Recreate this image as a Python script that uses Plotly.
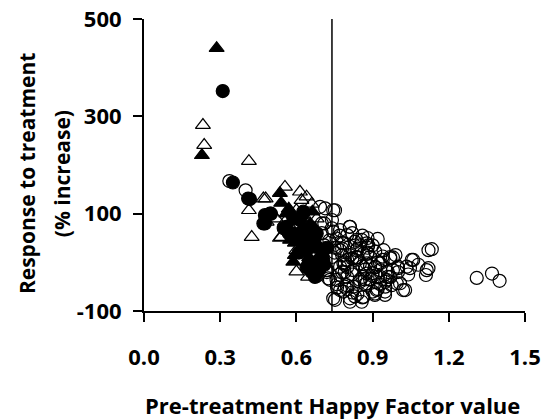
import plotly.graph_objects as go

# Open circles
oc_x = [0.336, 0.40,
        0.693, 0.713, 0.745, 0.70, 0.72, 0.752, 0.71, 0.72, 0.732, 0.745, 0.74, 0.726,
        0.81, 0.80, 0.837, 0.877, 0.90, 0.97, 0.98, 0.955, 0.916, 0.864, 0.811, 0.772,
        0.758, 0.785, 0.837, 0.877, 0.90, 0.85, 0.80, 0.772, 0.81, 0.864, 0.89, 0.93,
        0.943, 0.93, 0.877, 0.824, 0.772, 0.80, 0.824, 0.85, 0.877, 0.837, 0.785, 0.758,
        0.745, 0.772, 0.74, 0.811, 0.857, 0.883, 0.969, 1.0, 1.054, 1.12, 1.113, 1.034,
        1.008, 1.028, 0.975, 0.949, 0.909, 0.857, 0.811, 0.752, 0.785, 0.798, 1.133, 1.06,
        1.12, 1.11, 1.047, 1.0, 1.02, 0.995, 0.949, 0.909, 1.31, 1.37, 1.40,
        0.76, 0.78, 0.79, 0.82, 0.84, 0.86, 0.88, 0.91, 0.92, 0.94, 0.76, 0.78, 0.80,
        0.82, 0.84, 0.86, 0.87, 0.89, 0.91, 0.93, 0.95, 0.77, 0.79, 0.83, 0.85, 0.87,
        0.89, 0.92, 0.96, 0.75, 0.77, 0.79, 0.81, 0.83, 0.85, 0.88, 0.90, 0.94, 0.76,
        0.78, 0.82, 0.84, 0.86, 0.88, 0.92, 0.98, 0.68, 0.70, 0.71, 0.69, 0.72, 0.73,
        0.66, 0.74, 0.75, 0.79, 0.83, 0.86, 0.90, 0.93, 0.96, 1.0, 0.97, 0.92, 0.88,
        0.84, 0.80, 0.78, 0.82, 0.87, 0.91, 0.95, 0.99, 1.04, 1.08]
oc_y = [167, 148,
        114, 111, 107, 80, -16, 107, 80, -16, -36, -74, 11, -33,
        73, 56, 46, 39, 35, 8, -16, -36, -57, -71, -74, -57,
        -36, -2, 11, -2, -22, -36, -30, 25, 32, 18, 11, -2,
        25, -16, -43, -50, -9, 5, -16, -2, -23, 25, 39, 49,
        63, 66, 87, 73, 46, 35, 11, -9, 5, 25, -16, -9,
        -43, -57, -47, -60, -64, -81, -81, -77, -60, -47, 27, 5,
        -12, -26, -12, -12, -57, -43, -67, -67, -32, -23, -38,
        30, 15, -20, 60, 28, 55, 20, -10, 48, 5, -45, 40, -10,
        -25, 10, -30, -45, -8, 22, -30, -40, -25, -5, 42, 35, -15,
        -35, -55, -20, 20, 55, 0, 15, 5, -40, 50, -28, 12, -52,
        28, -62, -65, -8, 30, -30, 10, -28, 60, 35, 0, -20, 45, 25,
        70, 30, -50, -70, -72, -60, -45, -30, -20, -30, 0, 18, 10,
        -55, -20, 8, -35, -10, -50, 15, -25, -5, -20]

# Open triangles
ot_x = [0.232, 0.237, 0.413, 0.413, 0.424, 0.47, 0.479, 0.555, 0.614, 0.64, 0.62, 0.54,
        0.555, 0.60, 0.60, 0.646, 0.483, 0.535, 0.60, 0.68, 0.66, 0.58, 0.64, 0.52, 0.68]
ot_y = [282, 241, 208, 107, 52, 131, 131, 155, 145, 135, 128, 52,
        83, 107, -19, -30, 83, 50, 25, 5, 120, 70, 60, 90, 90]

# Filled circles
fc_x = [0.31, 0.35, 0.417, 0.496, 0.476, 0.627, 0.588, 0.673, 0.41, 0.476, 0.47, 0.50,
        0.627, 0.614, 0.56, 0.60, 0.654, 0.673, 0.64, 0.693, 0.706, 0.68, 0.627, 0.588,
        0.55, 0.57, 0.62, 0.64, 0.66, 0.70, 0.65, 0.69, 0.71, 0.66, 0.61, 0.72, 0.64, 0.66]
fc_y = [352, 164, 130, 100, 80, 100, 90, -30, 131, 97, 80, 100,
        104, 87, 73, 52, 46, 32, 25, -9, 5, 59, 66, 59,
        70, 60, 45, 30, 40, 10, 0, -15, -5, 70, 20, 30, -10, -20]

# Filled triangles
ft_x = [0.286, 0.228, 0.535, 0.54, 0.663, 0.575, 0.594, 0.588, 0.594, 0.654, 0.62, 0.56,
        0.68, 0.70, 0.65, 0.62, 0.57]
ft_y = [440, 220, 142, 122, 104, 46, 40, 1, 15, 80, 60, 100,
        40, 20, 10, 30, 110]

x_ticks = [0.0, 0.3, 0.6, 0.9, 1.2, 1.5]
x_tick_text = ["0.0", "0.3", "0.6", "0.9", "1.2", "1.5"]
y_ticks = [-100, 100, 300, 500]
y_tick_text = ["-100", "100", "300", "500"]
cutoff = 0.74

FONT = "Open Sans"
fig = go.Figure()

def add(xs, ys, symbol, color):
    fig.add_trace(go.Scatter(
        x=xs, y=ys, mode="markers",
        marker=dict(symbol=symbol, size=13, color=color,
                    line=dict(color="black", width=1.2)),
        showlegend=False, hoverinfo="skip"))

add(oc_x, oc_y, "circle-open", "black")
add(ot_x, ot_y, "triangle-up-open", "black")
add(fc_x, fc_y, "circle", "black")
add(ft_x, ft_y, "triangle-up", "black")

fig.add_shape(type="line", x0=cutoff, x1=cutoff, y0=-100, y1=500,
              xref="x", yref="y", line=dict(color="black", width=1.5))

fig.update_xaxes(range=[0, 1.5], tickvals=x_ticks, ticktext=x_tick_text,
                 showline=True, linecolor="black", linewidth=2, automargin=False,
                 ticks="outside", ticklen=9, tickwidth=2, tickcolor="black",
                 showgrid=False, zeroline=False, ticklabelstandoff=17,
                 tickfont=dict(family=FONT, size=22, color="black", weight="bold"))
fig.update_yaxes(range=[-100, 500], tickvals=y_ticks, ticktext=y_tick_text,
                 showline=True, linecolor="black", linewidth=2, automargin=False,
                 ticks="outside", ticklen=9, tickwidth=2, tickcolor="black",
                 showgrid=False, zeroline=False, ticklabelstandoff=7,
                 tickfont=dict(family=FONT, size=22, color="black", weight="bold"))

fig.add_annotation(text="Pre-treatment Happy Factor value", xref="paper", yref="paper",
                   x=0.496, y=-0.3216, xanchor="center", yanchor="middle", showarrow=False,
                   font=dict(family=FONT, size=22, color="black", weight="bold"))
fig.add_annotation(text="Response to treatment", xref="paper", yref="paper",
                   x=-0.307, y=0.469, xanchor="center", yanchor="middle", showarrow=False,
                   textangle=-90,
                   font=dict(family=FONT, size=21, color="black", weight="bold"))
fig.add_annotation(text="(% increase)", xref="paper", yref="paper",
                   x=-0.215, y=0.469, xanchor="center", yanchor="middle", showarrow=False,
                   textangle=-90,
                   font=dict(family=FONT, size=21, color="black", weight="bold"))

fig.update_layout(width=549, height=420, autosize=False,
                  plot_bgcolor="white", paper_bgcolor="white",
                  margin=dict(l=144, r=24, t=19, b=109))
fig.write_html("out.html", config={"displayModeBar": False},
               post_script="document.body.style.margin='0';")
